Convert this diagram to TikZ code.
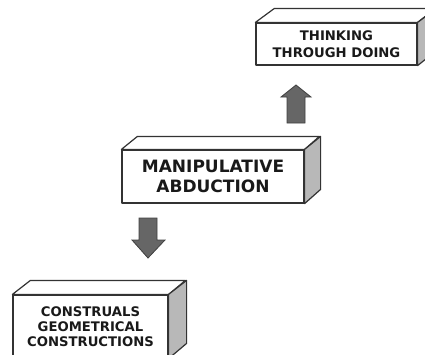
\documentclass[tikz,border=0pt]{standalone}
\usepackage{fontspec}
\setmainfont{DejaVu Sans}
\begin{document}
\begin{tikzpicture}[x=1pt,y=-1pt,
  edge/.style={draw=black!80, line width=1.2pt, line join=round},
  frontbox/.style={edge, fill=white, inner sep=0pt, align=center, text=black!90},
  topface/.style={edge, fill=white},
  sideface/.style={edge, fill=black!28},
  blockarrow/.style={draw=black!75, line width=0.8pt, fill=black!60, line join=miter}]
\useasboundingbox (0,0) rectangle (425,354);
\clip (0,0) rectangle (425,354);

% top box
\node[frontbox, minimum width=161pt, minimum height=42pt,
      font=\fontsize{13.2}{17}\selectfont\bfseries] (think) at (336.5,44)
      {THINKING\\THROUGH DOING};
\draw[topface] (think.north west) -- ++(19,-14) -- ++(161,0) -- (think.north east) -- cycle;
\draw[sideface] (think.north east) -- ++(19,-14) -- ++(0,42) -- (think.south east) -- cycle;

% middle box
\node[frontbox, minimum width=182pt, minimum height=53pt,
      font=\fontsize{17}{20}\selectfont\bfseries] (manip) at (213,176.5)
      {MANIPULATIVE\\ABDUCTION};
\draw[topface] (manip.north west) -- ++(16,-13) -- ++(182,0) -- (manip.north east) -- cycle;
\draw[sideface] (manip.north east) -- ++(16,-13) -- ++(0,53) -- (manip.south east) -- cycle;

% bottom box (its lower edge lies below the picture's border)
\node[frontbox, minimum width=155pt, minimum height=63pt,
      font=\fontsize{13.2}{15}\selectfont\bfseries] (constr) at (90.5,326.5)
      {CONSTRUALS\\GEOMETRICAL\\CONSTRUCTIONS};
\draw[topface] (constr.north west) -- ++(18,-14) -- ++(155,0) -- (constr.north east) -- cycle;
\draw[sideface] (constr.north east) -- ++(18,-14) -- ++(0,63) -- (constr.south east) -- cycle;

% block arrows
\draw[blockarrow] (287,123) -- (287,97) -- (281,97) -- (296,85) -- (311,97) -- (305,97) -- (305,123) -- cycle;
\draw[blockarrow] (139,218) -- (139,240) -- (132,240) -- (148,258) -- (165,240) -- (157,240) -- (157,218) -- cycle;
\end{tikzpicture}
\end{document}
